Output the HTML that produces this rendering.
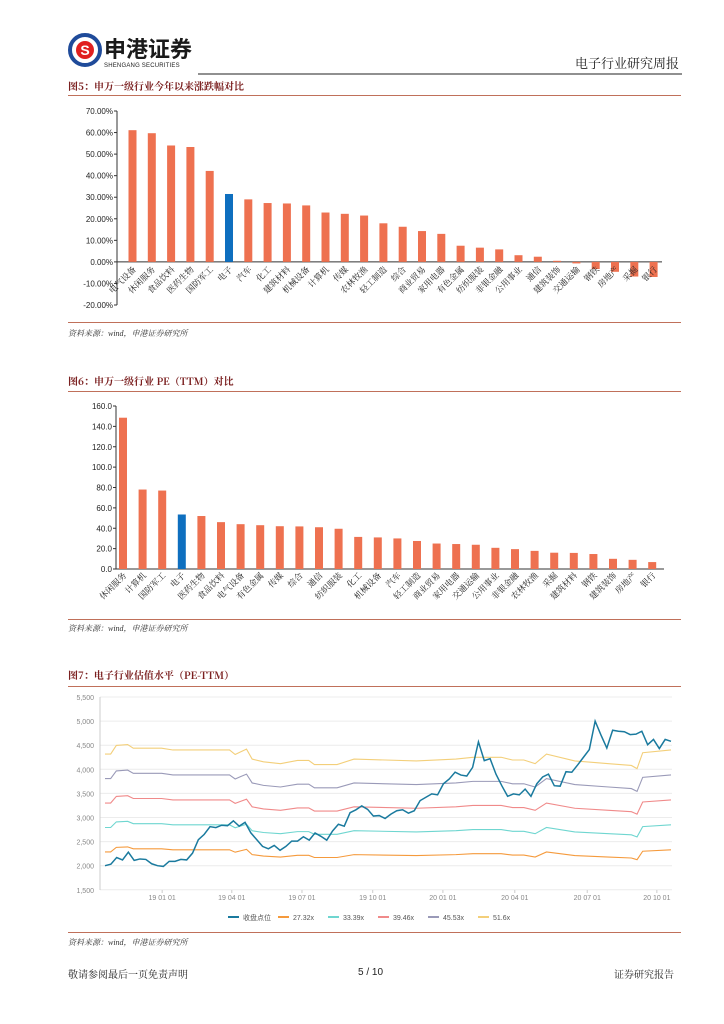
<!DOCTYPE html>
<html><head><meta charset="utf-8"><style>
body{margin:0;background:#fff;font-family:"Liberation Sans","Noto Sans CJK SC",sans-serif;}
#page{position:relative;width:724px;height:1024px;overflow:hidden;background:#fff}
.t{position:absolute;white-space:nowrap}
.ttl{font-size:10px;font-weight:bold;color:#7b2020;font-family:"Noto Serif CJK SC","Noto Sans CJK SC",sans-serif}
.src{font-size:8px;font-style:italic;color:#333;font-family:"Liberation Serif","Noto Serif CJK SC",serif}
.hl{position:absolute;height:1px;background:#c0705a}
</style></head><body><div id="page">
<svg width="724" height="1024" style="position:absolute;left:0;top:0">
<g>
<circle cx="85" cy="50" r="15" fill="#fff" stroke="#1f4b9a" stroke-width="4"/>
<circle cx="85" cy="50" r="9" fill="#e02020"/>
<text x="85" y="55" font-size="14" font-weight="bold" fill="#fff" text-anchor="middle" font-family="Liberation Sans">S</text>
</g>
<line x1="198" y1="74" x2="682" y2="74" stroke="#222" stroke-width="1"/>
<g id="c1"></g>
<g id="c2"></g>
<g id="c3"></g>
</svg>
<div class="t" style="left:104px;top:36px;font-size:22px;font-weight:bold;color:#1a1a1a;font-family:'Noto Sans CJK SC',sans-serif;line-height:24px">申港证券</div>
<div class="t" style="left:104px;top:63px;font-size:6px;color:#222;letter-spacing:0.2px">SHENGANG SECURITIES</div>
<div class="t" style="left:575px;top:53px;font-size:13px;color:#222;font-family:'Noto Serif CJK SC',serif">电子行业研究周报</div>

<div class="t ttl" style="left:68px;top:78px">图5：申万一级行业今年以来涨跌幅对比</div>
<div class="hl" style="left:68px;top:95px;width:613px"></div>
<div class="hl" style="left:68px;top:322px;width:613px"></div>
<div class="t src" style="left:68px;top:328px">资料来源：wind，申港证券研究所</div>

<div class="t ttl" style="left:68px;top:373px">图6：申万一级行业 PE（TTM）对比</div>
<div class="hl" style="left:68px;top:391px;width:613px"></div>
<div class="hl" style="left:68px;top:619px;width:613px"></div>
<div class="t src" style="left:68px;top:623px">资料来源：wind，申港证券研究所</div>

<div class="t ttl" style="left:68px;top:667px">图7：电子行业估值水平（PE-TTM）</div>
<div class="hl" style="left:68px;top:686px;width:613px"></div>
<div class="hl" style="left:68px;top:932px;width:613px"></div>
<div class="t src" style="left:68px;top:937px">资料来源：wind，申港证券研究所</div>

<div class="t" style="left:68px;top:966px;font-size:10px;color:#222;font-family:'Noto Serif CJK SC',serif">敬请参阅最后一页免责声明</div>
<div class="t" style="left:358px;top:967px;font-size:10px;color:#222">5 / 10</div>
<div class="t" style="left:614px;top:966px;font-size:10px;color:#222;font-family:'Noto Serif CJK SC',serif">证券研究报告</div>
</div>
<script>
const NS='http://www.w3.org/2000/svg';
function mk(p,tag,a,txt){const e=document.createElementNS(NS,tag);for(const k in a)e.setAttribute(k,a[k]);if(txt!==undefined)e.textContent=txt;p.appendChild(e);return e;}
const ORANGE='#ee7150',BLUE='#0e6fbf';

// ---- Chart 1 data
const c1Cats=['电气设备','休闲服务','食品饮料','医药生物','国防军工','电子','汽车','化工','建筑材料','机械设备','计算机','传媒','农林牧渔','轻工制造','综合','商业贸易','家用电器','有色金属','纺织服装','非银金融','公用事业','通信','建筑装饰','交通运输','钢铁','房地产','采掘','银行'];
const c1Vals=[61.1,59.7,54.0,53.3,42.2,31.5,29.0,27.3,27.1,26.2,22.9,22.3,21.5,17.9,16.3,14.3,13.0,7.5,6.6,5.8,3.1,2.4,0.5,-0.7,-3.3,-4.6,-6.8,-7.0];
const c1Ticks=[70,60,50,40,30,20,10,0,-10,-20];
// ---- Chart 2 data
const c2Cats=['休闲服务','计算机','国防军工','电子','医药生物','食品饮料','电气设备','有色金属','传媒','综合','通信','纺织服装','化工','机械设备','汽车','轻工制造','商业贸易','家用电器','交通运输','公用事业','非银金融','农林牧渔','采掘','建筑材料','钢铁','建筑装饰','房地产','银行'];
const c2Vals=[148.5,78,77,53.5,52,46,44,43,42,41.8,41,39.5,31.5,31,30,27.5,25,24.5,23.8,20.8,19.5,17.8,16,15.8,14.7,10,9,6.8];
const c2Ticks=[160,140,120,100,80,60,40,20,0];
// ---- Chart 3 data (weekly)
const closeVals=[2000,2030,2170,2120,2280,2110,2140,2130,2040,2000,1985,2090,2090,2130,2120,2260,2540,2650,2810,2790,2840,2830,2930,2820,2900,2680,2540,2400,2350,2420,2320,2400,2510,2510,2600,2530,2680,2610,2530,2720,2860,2820,3100,3160,3240,3170,3030,3040,2980,3070,3140,3160,3090,3140,3350,3420,3490,3470,3700,3800,3940,3880,3860,4040,4570,4180,4220,3900,3660,3440,3490,3470,3590,3440,3700,3840,3900,3660,3650,3950,3940,4090,4250,4410,5000,4710,4440,4810,4790,4780,4720,4730,4790,4510,4620,4430,4620,4580];
const bandWeeks=[0,1,2,4,5,10,12,22,23,24,25,26,28,31,34,36,37,41,44,55,62,65,70,72,74,76,78,83,89,93,94,95,100];
const bandBase=[2285,2285,2380,2390,2350,2350,2330,2330,2280,2310,2340,2230,2200,2180,2215,2215,2170,2170,2230,2210,2230,2250,2250,2220,2220,2180,2285,2210,2180,2160,2125,2300,2330];
const bandMults=[27.32,33.39,39.46,45.53,51.6];
const bandNames=['27.32x','33.39x','39.46x','45.53x','51.6x'];
const bandColors=['#f59a3c','#6fd6d0','#f08a8a','#9a9ab8','#f3cf7a'];
const c3Ticks=[5500,5000,4500,4000,3500,3000,2500,2000,1500];
const c3Dates=['19-01-01','19-04-01','19-07-01','19-10-01','20-01-01','20-04-01','20-07-01','20-10-01'];
const c3DateWeeks=[10.1,22.4,34.8,47.3,59.7,72.4,85.2,97.5];
const c3TotalWeeks=100;

function barChart(gid,cats,vals,ticks,x0,x1,yTop,yBot,vMax,vMin,fmt,labY,c0,step,bw,hiIdx){
  const g=document.getElementById(gid);
  const y=v=>yTop+(vMax-v)/(vMax-vMin)*(yBot-yTop);
  const x=i=>c0+i*step;
  ticks.forEach(t=>{const e=mk(g,'text',{x:x0-4,y:y(t)+3,'font-size':8,'text-anchor':'end',fill:'#222'},fmt(t));
    
    
    mk(g,'line',{x1:x0-3,x2:x0,y1:y(t),y2:y(t),stroke:'#333'});});
  const ax=mk(g,'line',{x1:x0,x2:x0,y1:yTop,y2:yBot,stroke:'#333'});
  
  
  const xa=mk(g,'line',{x1:x0,x2:x1,y1:y(0),y2:y(0),stroke:'#333'});
  
  
  vals.forEach((v,i)=>{
    const top=Math.min(y(v),y(0)),h=Math.abs(y(v)-y(0));
    const r=mk(g,'rect',{x:x(i)-bw/2,y:top,width:bw,height:h,fill:i===hiIdx?BLUE:ORANGE});
    
    
    const t=mk(g,'text',{x:x(i)+4,y:labY,'font-size':8.5,'text-anchor':'end',fill:'#222',transform:`rotate(-45 ${x(i)+4} ${labY})`,'font-family':'Noto Serif CJK SC,serif'},cats[i]);
    
    
  });
}
barChart('c1',c1Cats,c1Vals,c1Ticks,117,662,111,305,70,-20,t=>t.toFixed(2)+'%',270,132.5,19.3,8,5);
barChart('c2',c2Cats,c2Vals,c2Ticks,116,664,406,569,160,0,t=>t.toFixed(1),576,123,19.6,8,3);

// line chart
(function(){
  const g=document.getElementById('c3');
  const X0=105,X1=671,N=closeVals.length;
  const x=w=>X0+w*(X1-X0)/c3TotalWeeks;
  const y=v=>697+(5500-v)/500*24.1;
  c3Ticks.forEach(t=>{
    const l=mk(g,'line',{x1:100,x2:672,y1:y(t),y2:y(t),stroke:'#ececec'});
    
    
    const e=mk(g,'text',{x:94,y:y(t)+3,'font-size':7,'text-anchor':'end',fill:'#888'},t.toLocaleString('en-US'));
    
    
  });
  mk(g,'line',{x1:100,x2:100,y1:697,y2:890,stroke:'#ccc'});
  c3Dates.forEach((d,i)=>{
    const e=mk(g,'text',{x:x(c3DateWeeks[i]),y:900,'font-size':7,'text-anchor':'middle',fill:'#888'},d.replace(/-/g,' '));
    
    
    mk(g,'line',{x1:x(c3DateWeeks[i]),x2:x(c3DateWeeks[i]),y1:890,y2:893,stroke:'#ccc'});
  });
  bandMults.forEach((m,k)=>{
    const pts=bandWeeks.map((w,i)=>x(w)+','+y(bandBase[i]*m/bandMults[0])).join(' ');
    const p=mk(g,'polyline',{points:pts,fill:'none',stroke:bandColors[k],'stroke-width':1.1});
    
    
  });
  const cp=mk(g,'polyline',{points:closeVals.map((v,i)=>x(i*c3TotalWeeks/(N-1))+','+y(v)).join(' '),fill:'none',stroke:'#1a7a9e','stroke-width':1.5});
  
  
  const names=['收盘点位'].concat(bandNames),cols=['#1a7a9e'].concat(bandColors);
  names.forEach((n,i)=>{
    const lx=228+i*50;
    const lg=mk(g,'g',{});
    
    
    mk(lg,'line',{x1:lx,x2:lx+11,y1:917,y2:917,stroke:cols[i],'stroke-width':2});
    mk(lg,'text',{x:lx+15,y:920,'font-size':7,fill:'#555'},n);
  });
})();
</script></body></html>
